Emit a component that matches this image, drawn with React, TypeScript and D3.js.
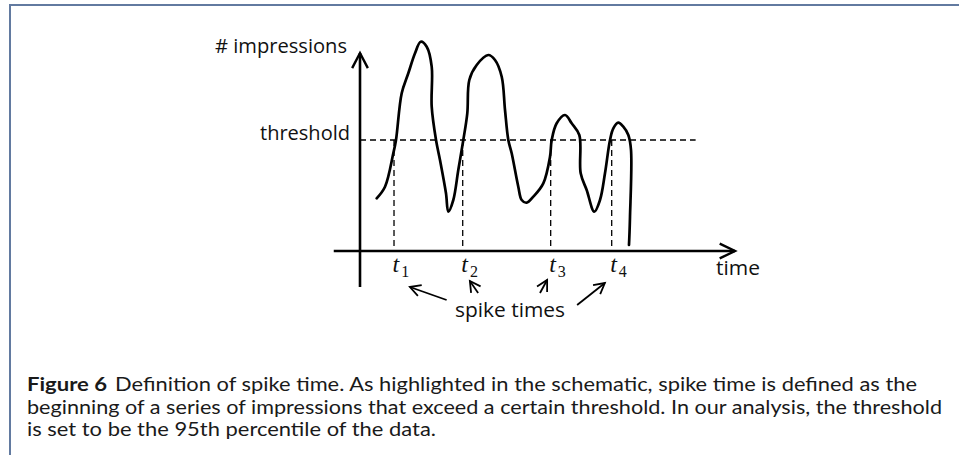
import React from "react";
import * as d3 from "d3";

// ---- data (schematic, data units: time 0..100, impressions 0..100) ----
const curveTime = [4.45, 6.67, 8.88, 9.6, 11.12, 12.88, 14.67, 16.19, 17.79, 19.12, 19.12, 20.27, 21.33, 22.93, 23.55, 24.88, 26.21, 27.55, 28.61, 29.15, 31.12, 34.21, 36.0, 37.79, 38.67, 39.55, 40.45, 42.21, 43.12, 44.45, 46.21, 48.88, 50.67, 51.12, 52.45, 54.67, 56.45, 58.48, 58.85, 60.45, 62.48, 64.0, 65.33, 66.67, 67.55, 68.88, 70.21, 71.55, 72.27, 72.0, 71.73];
const curveImpressions = [26.35, 32.15, 48.85, 55.5, 78.85, 88.85, 98.85, 104.65, 102.15, 92.15, 72.15, 55.5, 45.5, 28.85, 19.65, 25.5, 40.5, 55.5, 68.85, 85.5, 93.0, 98.0, 95.5, 87.15, 70.5, 55.5, 48.85, 32.15, 25.5, 24.15, 27.15, 33.85, 47.15, 55.5, 63.85, 68.0, 63.85, 58.0, 38.85, 30.5, 19.65, 25.5, 38.85, 55.5, 61.35, 64.15, 62.15, 58.0, 50.5, 17.15, 3.0];
const spikeTimes = [9.07, 27.39, 50.85, 67.12];
const spikeSubscripts = ["1", "2", "3", "4"];
const thresholdValue = 55.5;
const yAxisLabel = "# impressions";
const xAxisLabel = "time";
const thresholdLabel = "threshold";
const annotationLabel = "spike times";
const captionLines = [
  "Definition of spike time. As highlighted in the schematic, spike time is defined as the",
  "beginning of a series of impressions that exceed a certain threshold. In our analysis, the threshold",
  "is set to be the 95th percentile of the data.",
];
const captionTitle = "Figure 6";

const W = 959;
const H = 455;

const x = d3.scaleLinear().domain([0, 100]).range([360, 735]);
const y = d3.scaleLinear().domain([0, 100]).range([251, 51]);

function arrowHead(x1: number, y1: number, x2: number, y2: number, len = 11, ang = 0.5) {
  const a = Math.atan2(y2 - y1, x2 - x1);
  const p1 = [x2 - len * Math.cos(a - ang), y2 - len * Math.sin(a - ang)];
  const p2 = [x2 - len * Math.cos(a + ang), y2 - len * Math.sin(a + ang)];
  return `M${p1[0]},${p1[1]}L${x2},${y2}L${p2[0]},${p2[1]}`;
}

export default function App() {
  const pts: [number, number][] = curveTime.map((t, i) => [t, curveImpressions[i]]);
  const line = d3
    .line<[number, number]>()
    .x((d) => x(d[0]))
    .y((d) => y(d[1]))
    .curve(d3.curveCatmullRom.alpha(0.5));

  const x0 = x(0);
  const y0 = y(0);
  const yTop = y(99);
  const xEnd = x(100);

  // annotation arrows (data units): [fromT, fromI, toT, toI]
  const arrows = [
    [23.1, -24.5, 13.3, -18.0],
    [31.5, -21.0, 29.3, -15.0],
    [48.0, -21.0, 49.9, -14.5],
    [57.9, -27.0, 65.3, -16.0],
  ];

  const chartFont = "'Open Sans', sans-serif";
  const captionFont = "Lato, 'DejaVu Sans', sans-serif";

  return (
    <svg
      width={W}
      height={H}
      style={{ position: "absolute", left: 0, top: 0, background: "#fff" }}
    >
      <rect x={0} y={0} width={W} height={H} fill="#fff" />
      {/* frame */}
      <line x1={9} y1={5} x2={W} y2={5} stroke="#627aa0" strokeWidth={2} />
      <line x1={10} y1={4} x2={10} y2={H} stroke="#627aa0" strokeWidth={2} />

      {/* axes */}
      <line x1={x0} y1={y(-18)} x2={x0} y2={yTop} stroke="#000" strokeWidth={2.6} />
      <path d={arrowHead(x0, y0, x0, yTop, 17, 0.48)} fill="none" stroke="#000" strokeWidth={2.4} />
      <line x1={x(-7)} y1={y0} x2={xEnd} y2={y0} stroke="#000" strokeWidth={2.6} />
      <path d={arrowHead(x0, y0, xEnd, y0, 17, 0.45)} fill="none" stroke="#000" strokeWidth={2.4} />

      {/* threshold */}
      <line
        x1={x0}
        y1={y(thresholdValue)}
        x2={x(89.5)}
        y2={y(thresholdValue)}
        stroke="#000"
        strokeWidth={1.3}
        strokeDasharray="6,4"
      />
      {spikeTimes.map((t, i) => (
        <line
          key={"v" + i}
          x1={x(t)}
          y1={y(thresholdValue)}
          x2={x(t)}
          y2={y0}
          stroke="#000"
          strokeWidth={1.3}
          strokeDasharray="6,4"
        />
      ))}

      {/* curve */}
      <path d={line(pts) || ""} fill="none" stroke="#000" strokeWidth={2.7} strokeLinejoin="round" strokeLinecap="round" />

      {/* labels */}
      <text x={215} y={53} fontFamily={chartFont} fontSize={20} fill="#111" textLength={132} lengthAdjust="spacingAndGlyphs">
        {yAxisLabel}
      </text>
      <text x={260} y={140} fontFamily={chartFont} fontSize={20} fill="#111" textLength={90} lengthAdjust="spacingAndGlyphs">
        {thresholdLabel}
      </text>
      <text x={716} y={275} fontFamily={chartFont} fontSize={20} fill="#111" textLength={44} lengthAdjust="spacingAndGlyphs">
        {xAxisLabel}
      </text>
      <text x={455} y={316.5} fontFamily={chartFont} fontSize={20} fill="#111" textLength={110} lengthAdjust="spacingAndGlyphs">
        {annotationLabel}
      </text>

      {spikeTimes.map((t, i) => (
        <text key={"t" + i} x={x(t) - 1.5} y={271.5} fontFamily="'Liberation Serif', serif" fill="#111">
          <tspan fontStyle="italic" fontSize={24}>t</tspan>
          <tspan fontSize={16} dy={5} dx={2}>{spikeSubscripts[i]}</tspan>
        </text>
      ))}

      {arrows.map((a, i) => {
        const x1 = x(a[0]), y1 = y(a[1]), x2 = x(a[2]), y2 = y(a[3]);
        return (
          <g key={"a" + i}>
            <line x1={x1} y1={y1} x2={x2} y2={y2} stroke="#000" strokeWidth={1.8} />
            <path d={arrowHead(x1, y1, x2, y2, 12, 0.5)} fill="none" stroke="#000" strokeWidth={1.8} />
          </g>
        );
      })}

      {/* caption */}
      <text x={27} y={391} fontFamily={captionFont} fontSize={19.5} fill="#1a1a1a" fontWeight="bold" textLength={80} lengthAdjust="spacingAndGlyphs">
        {captionTitle}
      </text>
      <text x={115} y={391} fontFamily={captionFont} fontSize={19.5} fill="#1a1a1a" textLength={802} lengthAdjust="spacingAndGlyphs">
        {captionLines[0]}
      </text>
      <text x={27} y={414} fontFamily={captionFont} fontSize={19.5} fill="#1a1a1a" textLength={915} lengthAdjust="spacingAndGlyphs">
        {captionLines[1]}
      </text>
      <text x={27} y={436} fontFamily={captionFont} fontSize={19.5} fill="#1a1a1a" textLength={409} lengthAdjust="spacingAndGlyphs">
        {captionLines[2]}
      </text>
    </svg>
  );
}
